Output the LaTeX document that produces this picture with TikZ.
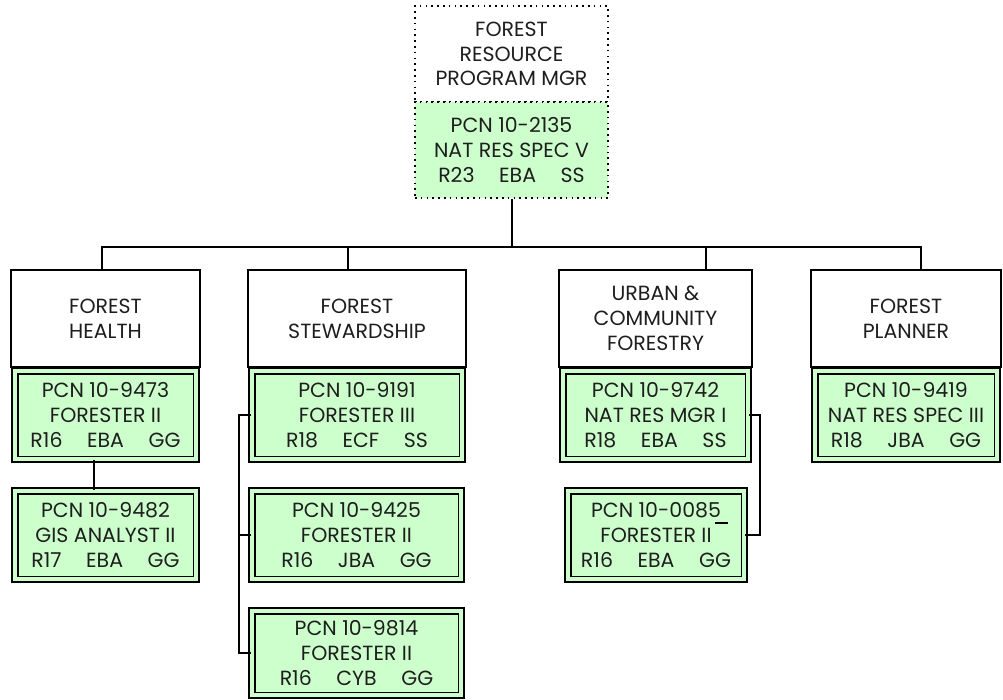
\documentclass[tikz,border=0pt]{standalone}
\usepackage{fontspec}
\setmainfont{Poppins}
\usetikzlibrary{calc}
\definecolor{pgreen}{RGB}{204,255,204}
\definecolor{txt}{RGB}{30,30,30}
\newcommand{\gp}{\hspace{1.2em}}
\begin{document}
\begin{tikzpicture}[x=1pt,y=-1pt,
  lbl/.style={align=center, inner sep=0pt, text=txt, font=\fontsize{20.5}{24.8}\selectfont},
  hdr/.style={lbl, draw, line width=2pt, fill=white},
  posbox/.style={lbl, draw, line width=1.8pt, fill=pgreen, double=pgreen, double distance=3.8pt},
  topbox/.style={lbl, draw, line width=1.6pt, dash pattern=on 1.6pt off 4.2pt},
  conn/.style={draw, line width=2pt}]
\useasboundingbox (0,0) rectangle (1003,700);
% top
\node[topbox, fill=white, minimum width=193pt, minimum height=96pt] (mgrT) at (511.5,54) {FOREST\\RESOURCE\\PROGRAM MGR};
\node[topbox, fill=pgreen, minimum width=193pt, minimum height=96pt] (mgrP) at (511.5,150) {PCN 10-2135\\NAT RES SPEC V\\R23\gp EBA\gp SS};
% column 1
\node[hdr, minimum width=189pt, minimum height=97pt] (h1) at (105.5,318.5) {FOREST\\HEALTH};
\node[posbox, minimum width=181.4pt, minimum height=88.4pt] (g11) at (105.5,415) {PCN 10-9473\\FORESTER II\\R16\gp EBA\gp GG};
\node[posbox, minimum width=181.4pt, minimum height=88.4pt] (g12) at (105.5,535) {PCN 10-9482\\GIS ANALYST II\\R17\gp EBA\gp GG};
% column 2
\node[hdr, minimum width=218pt, minimum height=97pt] (h2) at (357,318.5) {FOREST\\STEWARDSHIP};
\node[posbox, minimum width=210.4pt, minimum height=88.4pt] (g21) at (357,415) {PCN 10-9191\\FORESTER III\\R18\gp ECF\gp SS};
\node[posbox, minimum width=209.4pt, minimum height=88.4pt] (g22) at (356.5,535) {PCN 10-9425\\FORESTER II\\R16\gp JBA\gp GG};
\node[posbox, minimum width=209.4pt, minimum height=84.4pt] (g23) at (356.5,653) {PCN 10-9814\\FORESTER II\\R16\gp CYB\gp GG};
% column 3
\node[hdr, minimum width=193pt, minimum height=97pt] (h3) at (655.5,318.5) {URBAN \&\\COMMUNITY\\FORESTRY};
\node[posbox, minimum width=185.4pt, minimum height=88.4pt] (g31) at (655.5,415) {PCN 10-9742\\NAT RES MGR I\\R18\gp EBA\gp SS};
\node[posbox, minimum width=176.4pt, minimum height=88.4pt] (g32) at (656,535) {PCN 10-0085\\FORESTER II\\R16\gp EBA\gp GG};
% column 4
\node[hdr, minimum width=190pt, minimum height=97pt] (h4) at (906,318.5) {FOREST\\PLANNER};
\node[posbox, minimum width=182.4pt, minimum height=88.4pt] (g41) at (906,415) {PCN 10-9419\\NAT RES SPEC III\\R18\gp JBA\gp GG};
% connectors
\coordinate (busy) at (0,247);
\coordinate (b1) at (102,247);
\coordinate (b2) at (348,247);
\coordinate (b3) at (706,247);
\coordinate (b4) at (921,247);
\draw[conn] (mgrP.south) -- (mgrP.south |- busy);
\draw[conn] ([xshift=-1pt]b1) -- ([xshift=1pt]b4);
\draw[conn] (b1) -- (b1 |- h1.north);
\draw[conn] (b2) -- (b2 |- h2.north);
\draw[conn] (b3) -- (b3 |- h3.north);
\draw[conn] (b4) -- (b4 |- h4.north);
\draw[conn] ([xshift=-11.5pt]g11.south) -- ([xshift=-11.5pt]g12.north);
\draw[conn] (g21.west) -- ++(-12,0) coordinate (c2) |- (g23.west);
\draw[conn] (g22.west) -- (g22.west -| c2);
\draw[conn] (g31.east) -- ++(11,0) |- (g32.east);
\draw[line width=1.3pt] (715,523) -- (728,523);
\end{tikzpicture}
\end{document}
